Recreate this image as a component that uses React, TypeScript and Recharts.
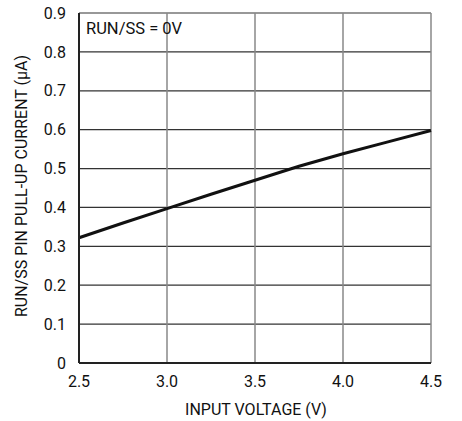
import { LineChart, Line, XAxis, YAxis, CartesianGrid } from 'recharts';

const voltage = [2.5, 2.75, 3.0, 3.25, 3.5, 3.75, 4.0, 4.25, 4.5];
const current = [0.322, 0.36, 0.397, 0.434, 0.47, 0.506, 0.538, 0.568, 0.598];
const xTicks = [2.5, 3.0, 3.5, 4.0, 4.5];
const yTicks = [0, 0.1, 0.2, 0.3, 0.4, 0.5, 0.6, 0.7, 0.8, 0.9];

const FONT = '"Roboto", "Liberation Sans", sans-serif';

const data = voltage.map((v, i) => ({ v, i: current[i] }));

const YLabel = () => (
  <text
    x={21}
    y={186}
    transform="rotate(-90 21 186)"
    textAnchor="middle"
    dominantBaseline="central"
    fill="#111"
    fontSize={16}
    fontFamily={FONT}
  >
    RUN/SS PIN PULL-UP CURRENT (µA)
  </text>
);

const XLabel = () => (
  <text x={256} y={409} textAnchor="middle" dominantBaseline="central" fill="#111" fontSize={16} fontFamily={FONT}>
    INPUT VOLTAGE (V)
  </text>
);

export default function App() {
  const tick = { fill: '#111', fontSize: 16, fontFamily: FONT };
  return (
    <div style={{ position: 'fixed', left: 0, top: 0, width: 462, height: 421, background: '#fff' }}>
      <LineChart width={462} height={421} data={data} margin={{ top: 13, right: 31, bottom: 0, left: 0 }}>
        <CartesianGrid vertical={false} stroke="#333" strokeWidth={1.2} />
        <CartesianGrid horizontal={false} stroke="#888" strokeWidth={1.5} />
        <XAxis
          dataKey="v"
          type="number"
          domain={[2.5, 4.5]}
          ticks={xTicks}
          interval={0}
          height={58}
          tickLine={false}
          tickSize={0}
          tickMargin={13}
          axisLine={{ stroke: '#222', strokeWidth: 2 }}
          tick={tick}
          tickFormatter={(t: number) => t.toFixed(1)}
          label={<XLabel />}
        />
        <YAxis
          type="number"
          domain={[0, 0.9]}
          ticks={yTicks}
          interval={0}
          width={79}
          tickLine={false}
          tickSize={0}
          tickMargin={13}
          axisLine={{ stroke: '#222', strokeWidth: 2 }}
          tick={tick}
          tickFormatter={(t: number) => (t === 0 ? '0' : t.toFixed(1))}
          label={<YLabel />}
        />
        <Line dataKey="i" stroke="#111" strokeWidth={3} dot={false} isAnimationActive={false} type="linear" />
      </LineChart>
      <div style={{ position: 'absolute', left: 86, top: 19, fontSize: 16.5, fontFamily: FONT, color: '#111' }}>
        RUN/SS = 0V
      </div>
    </div>
  );
}
